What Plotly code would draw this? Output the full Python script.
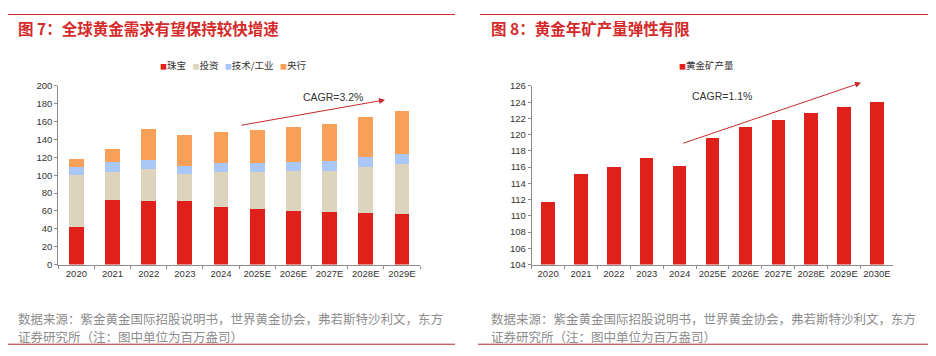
import plotly.graph_objects as go

# ---- Left chart data (million oz) ----
years_l = ["2020", "2021", "2022", "2023", "2024", "2025E", "2026E", "2027E", "2028E", "2029E"]
jewelry = [42.3, 72.4, 71.6, 70.9, 64.8, 62.3, 60.4, 59.0, 57.9, 56.4]
investment = [57.5, 31.4, 35.8, 30.4, 38.3, 40.8, 43.8, 46.2, 51.3, 56.4]
tech = [9.8, 10.9, 10.2, 9.4, 10.1, 10.5, 10.8, 10.9, 10.9, 10.9]
central = [8.7, 14.8, 34.7, 34.3, 35.1, 36.9, 39.5, 41.6, 44.8, 48.1]
names_l = ["珠宝", "投资", "技术/工业", "央行"]
colors_l = ["#e0201b", "#ddd4bd", "#a9c8f8", "#f9a058"]

# ---- Right chart data ----
years_r = ["2020", "2021", "2022", "2023", "2024", "2025E", "2026E", "2027E", "2028E", "2029E", "2030E"]
mine = [111.7, 115.15, 116.05, 117.15, 116.2, 119.6, 120.9, 121.8, 122.65, 123.45, 124.05]
name_r = "黄金矿产量"

title_l = "图 7：全球黄金需求有望保持较快增速"
title_r = "图 8：黄金年矿产量弹性有限"
source_1 = "数据来源：紫金黄金国际招股说明书，世界黄金协会，弗若斯特沙利文，东方"
source_2 = "证券研究所（注：图中单位为百万盎司）"
cagr_l = "CAGR=3.2%"
cagr_r = "CAGR=1.1%"

# page body has an 8px default margin; lay out in page pixels
W, H = 936, 356
OFF = 8
FW, FH = W - OFF, H - OFF

def px(x):
    return (x - OFF) / FW

def py(y):
    return 1 - (y - OFF) / FH

fig = go.Figure()
for name, vals, c in zip(names_l, [jewelry, investment, tech, central], colors_l):
    fig.add_trace(go.Bar(x=years_l, y=vals, name=name, marker_color=c, marker_line_width=0,
                         xaxis="x", yaxis="y", showlegend=False, width=0.41))
fig.add_trace(go.Bar(x=years_r, y=mine, name=name_r, marker_color="#e0201b", marker_line_width=0,
                     xaxis="x2", yaxis="y2", showlegend=False, width=0.41))

tickfont = dict(family="Liberation Sans, Arial", size=9.5, color="#333333")
axis_common = dict(showline=True, linecolor="#8c8c8c", linewidth=1, ticks="outside", ticklen=3,
                   tickcolor="#8c8c8c", tickfont=tickfont, showgrid=False, zeroline=False, fixedrange=True)

ydom = [py(266.7), py(82.3)]
fig.update_layout(
    width=FW, height=FH, margin=dict(l=0, r=0, t=0, b=0),
    paper_bgcolor="white", plot_bgcolor="white",
    barmode="stack", showlegend=False,
    font=dict(family="Noto Sans CJK SC, Liberation Sans", color="#333333"),
    xaxis=dict(domain=[px(58.3), px(420)], type="category", tickson="boundaries", tickangle=0,
               anchor="y", **axis_common),
    yaxis=dict(domain=ydom, range=[0, 200], dtick=20, anchor="x", **axis_common),
    xaxis2=dict(domain=[px(531.7), px(893.3)], type="category", tickson="boundaries", tickangle=0,
                anchor="y2", **axis_common),
    yaxis2=dict(domain=ydom, range=[104, 126], dtick=2, anchor="x2", **axis_common),
)

red = "#d0282c"
shapes = [
    dict(type="line", xref="paper", yref="paper", x0=px(6), x1=px(455), y0=py(8.5), y1=py(8.5), line=dict(color=red, width=1)),
    dict(type="line", xref="paper", yref="paper", x0=px(480), x1=px(933), y0=py(8.5), y1=py(8.5), line=dict(color=red, width=1)),
    dict(type="line", xref="paper", yref="paper", x0=px(5), x1=px(455), y0=py(349), y1=py(349), line=dict(color="#b0282c", width=1)),
    dict(type="line", xref="paper", yref="paper", x0=px(478), x1=px(928), y0=py(349), y1=py(349), line=dict(color="#b0282c", width=1)),
]
fig.update_layout(shapes=shapes)

title_font = dict(family="Noto Sans CJK SC", size=15.5, color="#d42a2a")
src_font = dict(family="Noto Sans CJK SC", size=12.5, color="#8c8c8c")
leg_font = dict(family="Noto Sans CJK SC", size=9.5, color="#333333")
cagr_font = dict(family="Liberation Sans, Arial", size=10.5, color="#333333")

def legend_text(names, colors):
    parts = ["<span style='color:%s;font-size:7px'>■</span>%s" % (c, n) for n, c in zip(names, colors)]
    return "   ".join(parts)

ann = [
    dict(text="<b>" + title_l + "</b>", x=px(16), y=py(22), xanchor="left", yanchor="middle", font=title_font),
    dict(text="<b>" + title_r + "</b>", x=px(489), y=py(22), xanchor="left", yanchor="middle", font=title_font),
    dict(text=source_1, x=px(16), y=py(322), xanchor="left", yanchor="middle", font=src_font),
    dict(text=source_2, x=px(16), y=py(341), xanchor="left", yanchor="middle", font=src_font),
    dict(text=source_1, x=px(489), y=py(322), xanchor="left", yanchor="middle", font=src_font),
    dict(text=source_2, x=px(489), y=py(341), xanchor="left", yanchor="middle", font=src_font),
    dict(text=legend_text(names_l, colors_l), x=px(233), y=py(61), xanchor="center", yanchor="middle", font=leg_font),
    dict(text=legend_text([name_r], ["#e0201b"]), x=px(706), y=py(61), xanchor="center", yanchor="middle", font=leg_font),
    dict(text=cagr_l, x=px(301), y=py(94), yanchor="middle", font=cagr_font),
    dict(text=cagr_r, x=px(754), y=py(93), yanchor="middle", font=cagr_font),
]
for a in ann:
    a.update(xref="paper", yref="paper", showarrow=False)
ann += [
    dict(text="", x=px(385), y=py(96.7), ax=-145, ay=25.6, xref="paper", yref="paper", axref="pixel", ayref="pixel",
         showarrow=True, arrowhead=2, arrowsize=1.2, arrowwidth=1, arrowcolor="#c8282c"),
    dict(text="", x=px(861), y=py(79), ax=-179.3, ay=61, xref="paper", yref="paper", axref="pixel", ayref="pixel",
         showarrow=True, arrowhead=2, arrowsize=1.2, arrowwidth=1, arrowcolor="#c8282c"),
]
fig.update_layout(annotations=ann)

fig.write_html("out.html")
